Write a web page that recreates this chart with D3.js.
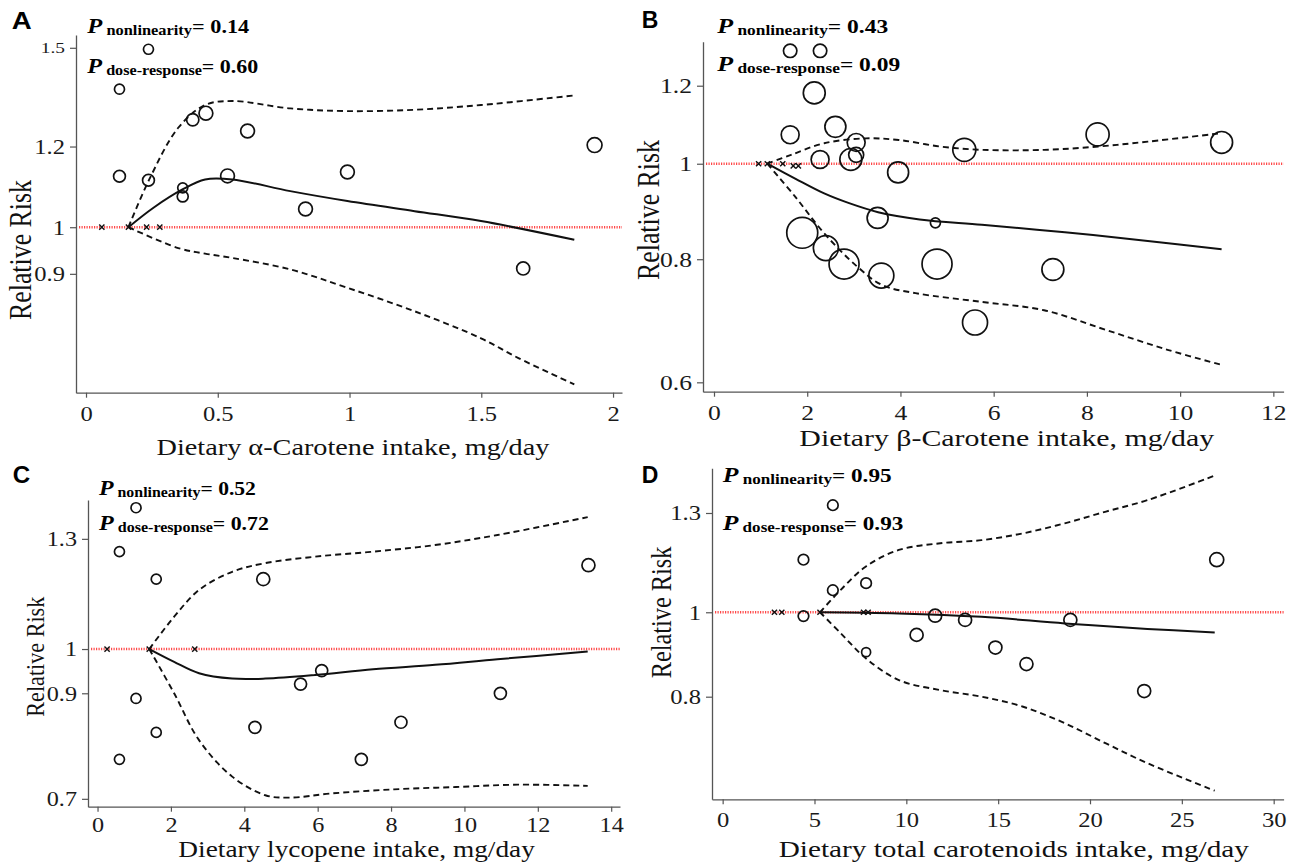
<!DOCTYPE html>
<html><head><meta charset="utf-8">
<script src="https://cdn.jsdelivr.net/npm/d3@7"></script>
<style>body{margin:0;background:#fff}svg{display:block}</style>
</head><body>
<svg id="c" width="1301" height="866"></svg>
<script>
// ---------------- DATA ----------------
// Panel A: alpha-carotene
const aXDomain = [-0.038, 2.034], aYDomain = [0.688, 1.544];
const aXTicks = [0, 0.5, 1, 1.5, 2], aXTickLabels = ["0", "0.5", "1", "1.5", "2"];
const aYTicks = [0.9, 1, 1.2, 1.5], aYTickLabels = ["0.9", "1", "1.2", "1.5"];
const aEstX = [0.161, 0.256, 0.366, 0.452, 0.555, 0.775, 0.992, 1.247, 1.499, 1.853];
const aEstY = [1.0, 1.045, 1.089, 1.114, 1.114, 1.085, 1.061, 1.037, 1.014, 0.972];
const aHiX = [0.161, 0.240, 0.350, 0.452, 0.555, 0.775, 0.995, 1.247, 1.499, 1.853];
const aHiY = [1.0, 1.114, 1.252, 1.318, 1.330, 1.308, 1.300, 1.304, 1.318, 1.347];
const aLoX = [0.161, 0.350, 0.452, 0.555, 0.775, 0.992, 1.247, 1.499, 1.641, 1.853];
const aLoY = [1.0, 0.954, 0.942, 0.933, 0.909, 0.872, 0.827, 0.778, 0.744, 0.701];
const aCirX = [0.237, 0.127, 0.127, 0.237, 0.367, 0.367, 0.405, 0.455, 0.537, 0.613, 0.992, 0.833, 1.659, 1.93];
const aCirY = [1.495, 1.366, 1.122, 1.112, 1.093, 1.072, 1.275, 1.294, 1.123, 1.243, 1.133, 1.042, 0.911, 1.204];
const aCirW = [1.0, 1.0, 1.4, 1.4, 1.0, 1.2, 1.5, 1.9, 1.9, 1.9, 1.9, 1.9, 1.7, 2.2];
const aRefX = [0.06, 0.161, 0.23, 0.28];
const aRefY = [1, 1, 1, 1];
const aP = ["0.14", "0.60"];

// Panel B: beta-carotene
const bXDomain = [-0.236, 12.22], bYDomain = [0.587, 1.33];
const bXTicks = [0, 2, 4, 6, 8, 10, 12], bXTickLabels = ["0", "2", "4", "6", "8", "10", "12"];
const bYTicks = [0.6, 0.8, 1, 1.2], bYTickLabels = ["0.6", "0.8", "1", "1.2"];
const bEstX = [1.144, 1.741, 2.364, 2.898, 3.521, 4.412, 5.747, 7.527, 9.307, 10.89];
const bEstY = [1.0, 0.966, 0.933, 0.912, 0.893, 0.878, 0.867, 0.852, 0.835, 0.819];
const bHiX = [1.144, 1.653, 2.364, 3.254, 3.967, 4.857, 5.747, 7.082, 8.24, 9.307, 10.89];
const bHiY = [1.0, 1.021, 1.049, 1.061, 1.057, 1.041, 1.033, 1.033, 1.041, 1.053, 1.074];
const bLoX = [1.144, 1.741, 2.364, 3.076, 3.611, 4.322, 5.747, 7.082, 8.416, 9.75, 10.89];
const bLoY = [1.0, 0.926, 0.850, 0.786, 0.753, 0.739, 0.724, 0.710, 0.678, 0.647, 0.625];
const bCirX = [1.634, 2.276, 2.151, 1.634, 2.604, 3.050, 2.276, 2.935, 3.05, 3.95, 5.37, 8.23, 10.89, 3.51, 4.75, 1.893, 2.40, 2.79, 3.59, 4.785, 7.27, 5.60];
const bCirY = [1.302, 1.302, 1.180, 1.070, 1.090, 1.051, 1.010, 1.010, 1.021, 0.980, 1.033, 1.071, 1.051, 0.881, 0.871, 0.851, 0.821, 0.791, 0.770, 0.791, 0.781, 0.690];
const bCirW = [1.8, 1.8, 4.8, 3.2, 4.4, 3.2, 3.2, 4.8, 2.25, 4.4, 5.3, 5.3, 4.8, 4.4, 1.0, 9.6, 6.25, 9.0, 6.25, 9.0, 4.8, 6.25];
const bRefX = [0.957, 1.144, 1.475, 1.70, 1.81];
const bRefY = [1, 1, 1, 0.995, 0.995];
const bP = ["0.43", "0.09"];

// Panel C: lycopene
const cXDomain = [-0.26, 14.24], cYDomain = [0.687, 1.426];
const cXTicks = [0, 2, 4, 6, 8, 10, 12, 14], cXTickLabels = ["0", "2", "4", "6", "8", "10", "12", "14"];
const cYTicks = [0.7, 0.9, 1, 1.3], cYTickLabels = ["0.7", "0.9", "1", "1.3"];
const cEstX = [1.41, 2.088, 2.766, 3.670, 4.573, 5.93, 7.51, 9.20, 10.90, 13.36];
const cEstY = [1.0, 0.970, 0.944, 0.932, 0.932, 0.940, 0.953, 0.963, 0.976, 0.994];
const cHiX = [1.41, 2.088, 2.766, 3.670, 4.573, 5.93, 7.51, 9.20, 10.90, 13.36];
const cHiY = [1.0, 1.080, 1.151, 1.202, 1.227, 1.246, 1.261, 1.281, 1.312, 1.369];
const cLoX = [1.41, 2.088, 2.766, 3.670, 4.573, 5.25, 6.38, 8.08, 9.77, 11.46, 13.36];
const cLoY = [1.0, 0.900, 0.805, 0.738, 0.706, 0.702, 0.709, 0.716, 0.720, 0.724, 0.722];
const cCirX = [1.049, 0.597, 1.60, 4.517, 13.38, 1.049, 1.60, 0.597, 4.29, 5.534, 6.11, 7.19, 8.27, 10.98];
const cCirY = [1.40, 1.261, 1.181, 1.181, 1.221, 0.889, 0.820, 0.769, 0.830, 0.920, 0.950, 0.769, 0.840, 0.900];
const cCirW = [1, 1, 1, 1.69, 1.69, 1, 1, 1, 1.44, 1.44, 1.44, 1.44, 1.44, 1.44];
const cRefX = [0.26, 1.41, 2.65];
const cRefY = [1, 1, 1];
const cP = ["0.52", "0.72"];

// Panel D: total carotenoids
const dXDomain = [-0.58, 30.54], dYDomain = [0.61, 1.463];
const dXTicks = [0, 5, 10, 15, 20, 25, 30], dXTickLabels = ["0", "5", "10", "15", "20", "25", "30"];
const dYTicks = [0.8, 1, 1.3], dYTickLabels = ["0.8", "1", "1.3"];
const dEstX = [5.30, 9.59, 14.10, 18.62, 23.13, 26.79];
const dEstY = [1.0, 0.997, 0.988, 0.971, 0.957, 0.948];
const dHiX = [5.30, 6.43, 7.78, 9.59, 11.85, 14.10, 16.36, 18.62, 20.87, 23.13, 26.79];
const dHiY = [1.0, 1.061, 1.128, 1.179, 1.200, 1.210, 1.232, 1.265, 1.305, 1.345, 1.435];
const dLoX = [5.30, 6.43, 7.78, 9.59, 11.85, 14.10, 16.36, 18.62, 20.87, 23.13, 26.79];
const dLoY = [1.0, 0.946, 0.886, 0.836, 0.814, 0.800, 0.779, 0.746, 0.707, 0.671, 0.624];
const dCirX = [6.0, 4.40, 6.0, 7.81, 4.40, 7.81, 10.56, 11.57, 13.2, 14.85, 16.54, 18.93, 22.95, 26.9];
const dCirY = [1.327, 1.149, 1.060, 1.080, 0.990, 0.900, 0.942, 0.991, 0.980, 0.911, 0.872, 0.980, 0.812, 1.149];
const dCirW = [1.12, 1.12, 1.12, 1.12, 1.12, 0.81, 1.69, 1.69, 1.69, 1.69, 1.69, 1.69, 1.69, 1.96];
const dRefX = [2.82, 3.22, 5.30, 7.67, 7.92];
const dRefY = [1, 1, 1, 1, 1];
const dP = ["0.95", "0.93"];

const panelLetters = ["A", "B", "C", "D"];
const xTitles = ["Dietary \u03B1-Carotene intake, mg/day", "Dietary \u03B2-Carotene intake, mg/day",
                 "Dietary lycopene intake, mg/day", "Dietary total carotenoids intake, mg/day"];
const yTitle = "Relative Risk";
const pLabels = ["nonlinearity", "dose-response"];

// ---------------- LAYOUT ----------------
const layouts = [
  {x0:76, x1:622, y0:35, y1:392.7, tickFont:21, tickSX:1.17, xLabOff:28.5, letter:[11.7,29.3,1.2],
   pX:87.3, pY:[33.3,73.3], pW:[162,171], xt:[353,455,24,393], yt:[31,250,140]},
  {x0:703, x1:1283.6, y0:41.7, y1:391.7, tickFont:21, tickSX:1.22, xLabOff:28.8, letter:[641.7,28.3,1.0],
   pX:717.3, pY:[33.3,70.7], pW:[171,183], xt:[1006.7,446,24,415], yt:[659,210,140]},
  {x0:88, x1:620, y0:500, y1:806.7, tickFont:20.5, tickSX:1.18, xLabOff:25.8, letter:[12.7,483,1.05],
   pX:99, pY:[495,530], pW:[157,170], xt:[356.6,856.7,23,356.5], yt:[44,656.7,120]},
  {x0:712, x1:1283.6, y0:468.3, y1:799.3, tickFont:20.5, tickSX:1.2, xLabOff:27.8, letter:[641.7,483,1.0],
   pX:722.7, pY:[481.7,530], pW:[169,180.6], xt:[1013.8,856.7,23,470.5], yt:[671,612.5,131.7]}
];

const zip = (xs, ys) => xs.map((v, i) => [v, ys[i]]);
const panels = [
  {xd:aXDomain, yd:aYDomain, xt:aXTicks, xl:aXTickLabels, yt:aYTicks, yl:aYTickLabels,
   est:zip(aEstX,aEstY), hi:zip(aHiX,aHiY), lo:zip(aLoX,aLoY), cir:aCirX.map((v,i)=>[v,aCirY[i],aCirW[i]]), ref:zip(aRefX,aRefY), p:aP},
  {xd:bXDomain, yd:bYDomain, xt:bXTicks, xl:bXTickLabels, yt:bYTicks, yl:bYTickLabels,
   est:zip(bEstX,bEstY), hi:zip(bHiX,bHiY), lo:zip(bLoX,bLoY), cir:bCirX.map((v,i)=>[v,bCirY[i],bCirW[i]]), ref:zip(bRefX,bRefY), p:bP},
  {xd:cXDomain, yd:cYDomain, xt:cXTicks, xl:cXTickLabels, yt:cYTicks, yl:cYTickLabels,
   est:zip(cEstX,cEstY), hi:zip(cHiX,cHiY), lo:zip(cLoX,cLoY), cir:cCirX.map((v,i)=>[v,cCirY[i],cCirW[i]]), ref:zip(cRefX,cRefY), p:cP},
  {xd:dXDomain, yd:dYDomain, xt:dXTicks, xl:dXTickLabels, yt:dYTicks, yl:dYTickLabels,
   est:zip(dEstX,dEstY), hi:zip(dHiX,dHiY), lo:zip(dLoX,dLoY), cir:dCirX.map((v,i)=>[v,dCirY[i],dCirW[i]]), ref:zip(dRefX,dRefY), p:dP}
];

const SERIF = '"Liberation Serif","Times New Roman",serif';
const SANS = '"Liberation Sans",Arial,sans-serif';
const AXC = '#555';
const svg = d3.select('#c');
const rScale = d3.scaleSqrt().domain([0, 1]).range([0, 5]);

panels.forEach((p, k) => {
  const L = layouts[k];
  const x = d3.scaleLinear().domain(p.xd).range([L.x0, L.x1]);
  const y = d3.scaleLog().domain(p.yd).range([L.y1, L.y0]);
  const g = svg.append('g');

  // x axis
  const gx = g.append('g').attr('transform', `translate(0,${L.y1})`)
    .call(d3.axisBottom(x).tickValues(p.xt).tickFormat((d, i) => p.xl[i]).tickSize(5).tickSizeOuter(0));
  gx.select('.domain').attr('stroke', AXC).attr('stroke-width', 1.3);
  gx.selectAll('.tick line').attr('stroke', AXC).attr('stroke-width', 1.2);
  gx.selectAll('.tick text').attr('font-family', SERIF).attr('font-size', L.tickFont).attr('fill', '#1a1a1a')
    .attr('y', L.xLabOff).attr('dy', 0).attr('transform', `scale(${L.tickSX},1)`);

  // y axis
  const gy = g.append('g').attr('transform', `translate(${L.x0},0)`)
    .call(d3.axisLeft(y).tickValues(p.yt).tickFormat((d, i) => p.yl[i]).tickSize(6).tickSizeOuter(0));
  gy.select('.domain').attr('stroke', AXC).attr('stroke-width', 1.3);
  gy.selectAll('.tick line').attr('stroke', AXC).attr('stroke-width', 1.2);
  gy.selectAll('.tick text').each(function(d, i) {
    const small = (k === 0 && p.yl[i] === "1.5");
    const fs = small ? 15.5 : L.tickFont;
    const sx = small ? 1.25 : L.tickSX;
    d3.select(this).attr('font-family', SERIF).attr('font-size', fs).attr('fill', '#1a1a1a')
      .attr('x', -11 / sx).attr('dy', '0.33em').attr('transform', `scale(${sx},1)`);
  });

  // reference line RR = 1
  g.append('line').attr('x1', L.x0 + 3).attr('x2', L.x1).attr('y1', y(1)).attr('y2', y(1))
    .attr('stroke', '#ff2a2a').attr('stroke-width', 2.4).attr('stroke-dasharray', '1.2,1.3').attr('opacity', 0.85);

  // curves
  const line = d3.line().curve(d3.curveCatmullRom.alpha(0.5)).x(d => x(d[0])).y(d => y(d[1]));
  g.append('path').attr('d', line(p.hi)).attr('fill', 'none').attr('stroke', '#111').attr('stroke-width', 1.9).attr('stroke-dasharray', '6,4');
  g.append('path').attr('d', line(p.lo)).attr('fill', 'none').attr('stroke', '#111').attr('stroke-width', 1.9).attr('stroke-dasharray', '6,4');
  g.append('path').attr('d', line(p.est)).attr('fill', 'none').attr('stroke', '#111').attr('stroke-width', 2);

  // study points
  g.selectAll('circle.pt').data(p.cir).join('circle').attr('class', 'pt')
    .attr('cx', d => x(d[0])).attr('cy', d => y(d[1])).attr('r', d => rScale(d[2]))
    .attr('fill', 'none').attr('stroke', '#111').attr('stroke-width', 1.7);

  // reference markers
  g.selectAll('path.ref').data(p.ref).join('path').attr('class', 'ref')
    .attr('transform', d => `translate(${x(d[0])},${y(d[1])})`)
    .attr('d', 'M-2.6,-2.6L2.6,2.6M-2.6,2.6L2.6,-2.6').attr('stroke', '#111').attr('stroke-width', 1.4);

  // panel letter
  g.append('text').text(panelLetters[k]).attr('font-family', SANS).attr('font-weight', 'bold')
    .attr('font-size', 23).attr('fill', '#000')
    .attr('transform', `translate(${L.letter[0]},${L.letter[1]}) scale(${L.letter[2]},1)`);

  // P annotations
  [0, 1].forEach(j => {
    const t = g.append('text').attr('font-family', SERIF).attr('font-weight', 'bold').attr('fill', '#000');
    t.append('tspan').text('P').attr('font-style', 'italic').attr('font-size', 21);
    t.append('tspan').text(' ' + pLabels[j]).attr('font-size', 14).attr('dy', 2);
    t.append('tspan').text('= ' + p.p[j]).attr('font-size', 19).attr('dy', -2);
    const w = t.node().getComputedTextLength();
    t.attr('transform', `translate(${L.pX},${L.pY[j]}) scale(${L.pW[j] / w},1)`);
  });

  // x title
  const xt = g.append('text').text(xTitles[k]).attr('font-family', SERIF).attr('font-size', L.xt[2])
    .attr('fill', '#111').attr('text-anchor', 'middle');
  const xw = xt.node().getComputedTextLength();
  xt.attr('transform', `translate(${L.xt[0]},${L.xt[1]}) scale(${L.xt[3] / xw},1)`);

  // y title
  const yt = g.append('text').text(yTitle).attr('font-family', SERIF).attr('font-size', 24)
    .attr('fill', '#111').attr('text-anchor', 'middle');
  const yw = yt.node().getComputedTextLength();
  const ls = L.yt[2] / yw;
  yt.attr('transform', `translate(${L.yt[0]},${L.yt[1]}) rotate(-90) scale(${ls},${ls * 1.18})`);
});
</script>
</body></html>
